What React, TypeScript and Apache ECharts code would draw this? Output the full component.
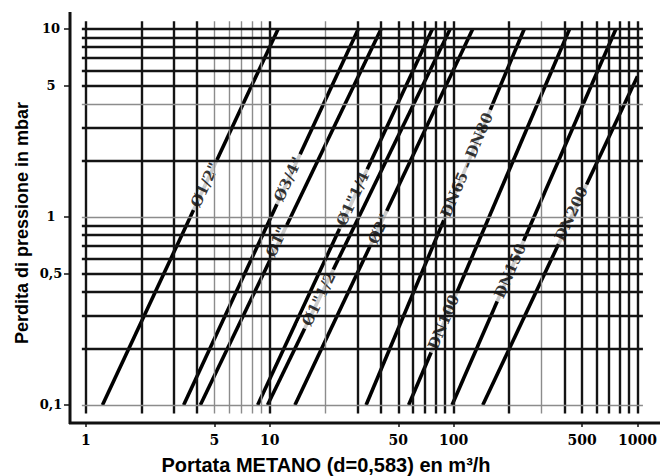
import React, { useEffect, useRef } from 'react';
import * as echarts from 'echarts';

// ---- data ----
const pipeNames = ['Ø1/2"', 'Ø3/4"', 'Ø1"', 'Ø1"1/4', 'Ø1"1/2', 'Ø2"', 'DN65 - DN80', 'DN100', 'DN150', 'DN200'];
const flowStart = [1.23, 3.4, 4.19, 8.59, 9.72, 13.7, 33.4, 56.9, 98, 144];
const pressureStart = [0.1, 0.1, 0.1, 0.1, 0.1, 0.1, 0.1, 0.1, 0.1, 0.1];
const flowEnd = [11.1, 30.3, 40.3, 76.6, 95.7, 127, 242, 427, 763, 1000];
const pressureEnd = [10, 10, 10, 10, 10, 10, 10, 10, 10, 5.6];
const labelFlow = [4.44, 12.6, 10.9, 28.3, 18.5, 39.3, 118, 88.3, 203, 437];
const labelPressure = [1.48, 1.59, 0.736, 1.25, 0.366, 0.863, 1.89, 0.276, 0.516, 1.04];
const xTickLabels = [1, 5, 10, 50, 100, 500, 1000];
const yTickLabels = [0.1, 0.5, 1, 5, 10];
const xGridValues = [1, 2, 3, 4, 5, 6, 7, 8, 9, 10, 20, 30, 40, 50, 60, 70, 80, 90, 100, 200, 300, 400, 500, 600, 700, 800, 900, 1000];
const yGridValues = [0.1, 0.2, 0.3, 0.4, 0.5, 0.6, 0.7, 0.8, 0.9, 1, 2, 3, 4, 5, 6, 7, 8, 9, 10];
const xAxisTitle = 'Portata METANO (d=0,583) en m³/h';
const yAxisTitle = 'Perdita di pressione in mbar';

// style helpers (not data)
const lightX = [5, 6, 7, 8, 9, 20, 300];
const lightY = [0.1, 1, 4];
const isIn = (list: number[], v: number) => list.some((w) => Math.abs(w - v) < 1e-9);
const darkGrid = { color: '#141414', width: 2.4, type: 'solid' as const };
const lightGrid = { color: '#8c8c8c', width: 1.4, type: 'solid' as const };

const fmt = (v: number) => (v < 1 ? v.toFixed(1) : String(Math.round(v))).replace('.', ',');

export default function App() {
  const ref = useRef<HTMLDivElement>(null);
  useEffect(() => {
    if (!ref.current) return;
    const chart = echarts.init(ref.current, undefined, { renderer: 'svg' });
    const labelFont = '"DejaVu Serif", "Liberation Serif", serif';
    const buildLabels = (angles: number[]) =>
      pipeNames.map((n, i) => ({
        name: n,
        value: [labelFlow[i], labelPressure[i]],
        label: { rotate: angles[i] },
      }));
    const option: any = {
      animation: false,
      backgroundColor: '#ffffff',
      grid: { left: 81.85, right: 9.5, top: 21.2, bottom: 62.4 },
      xAxis: {
        type: 'log',
        min: 0.95,
        max: 1070,
        offset: 9.4,
        axisLine: { show: false },
        splitLine: { show: false },
        minorSplitLine: { show: false },
        axisTick: {
          show: true,
          customValues: xTickLabels,
          length: 4,
          lineStyle: { color: '#111', width: 1.5 },
        },
        axisLabel: {
          customValues: xTickLabels,
          formatter: fmt,
          margin: 10,
          color: '#000',
          fontFamily: labelFont,
          fontWeight: 'bold',
          fontSize: 14,
        },
      },
      yAxis: {
        type: 'log',
        min: 0.09,
        max: 11,
        offset: 11.85,
        axisLine: { show: false },
        splitLine: { show: false },
        minorSplitLine: { show: false },
        axisTick: {
          show: true,
          customValues: yTickLabels,
          length: 6,
          lineStyle: { color: '#111', width: 1.5 },
        },
        axisLabel: {
          customValues: yTickLabels,
          formatter: fmt,
          margin: 19,
          align: 'center',
          color: '#000',
          fontFamily: labelFont,
          fontWeight: 'bold',
          fontSize: 13,
        },
      },
      series: [
        {
          id: 'grid',
          type: 'line',
          data: [],
          z: 1,
          silent: true,
          markLine: {
            silent: true,
            symbol: ['none', 'none'],
            label: { show: false },
            animation: false,
            data: [
              ...xGridValues.map((v) => ({ xAxis: v, lineStyle: isIn(lightX, v) ? lightGrid : darkGrid })),
              ...yGridValues.map((v) => ({ yAxis: v, lineStyle: isIn(lightY, v) ? lightGrid : darkGrid })),
            ],
          },
        },
        ...pipeNames.map((n, i) => ({
          name: n,
          type: 'line',
          z: 2,
          silent: true,
          symbol: 'none',
          lineStyle: { color: '#000', width: 3.6 },
          data: [
            [flowStart[i], pressureStart[i]],
            [flowEnd[i], pressureEnd[i]],
          ],
        })),
        {
          id: 'labels',
          type: 'scatter',
          z: 3,
          silent: true,
          symbolSize: 1,
          itemStyle: { color: '#fff' },
          label: {
            show: true,
            position: 'inside',
            formatter: '{b}',
            color: '#000',
            fontFamily: labelFont,
            fontWeight: 'bold',
            fontSize: 15,
            backgroundColor: '#ffffff',
            padding: [1, 4],
            align: 'center',
            verticalAlign: 'middle',
          },
          data: buildLabels(pipeNames.map(() => 64)),
        },
      ],
      graphic: [
        { type: 'line', shape: { x1: 70, y1: 12, x2: 70, y2: 424 }, style: { stroke: '#111', lineWidth: 3 }, z: 10 },
        { type: 'line', shape: { x1: 69, y1: 423, x2: 660, y2: 423 }, style: { stroke: '#111', lineWidth: 3 }, z: 10 },
        {
          type: 'text',
          x: 326,
          y: 465,
          z: 10,
          style: {
            text: xAxisTitle,
            font: 'bold 20px "Liberation Sans", Arial, sans-serif',
            fill: '#000',
            align: 'center',
            verticalAlign: 'middle',
          },
        },
        {
          type: 'text',
          x: 22,
          y: 223,
          rotation: Math.PI / 2,
          z: 10,
          style: {
            text: yAxisTitle,
            font: 'bold 18px "Liberation Sans", Arial, sans-serif',
            fill: '#000',
            align: 'center',
            verticalAlign: 'middle',
          },
        },
      ],
    };
    chart.setOption(option);
    const angles = pipeNames.map((_, i) => {
      const a = chart.convertToPixel({ gridIndex: 0 }, [flowStart[i], pressureStart[i]]) as number[];
      const b = chart.convertToPixel({ gridIndex: 0 }, [flowEnd[i], pressureEnd[i]]) as number[];
      return (Math.atan2(a[1] - b[1], b[0] - a[0]) * 180) / Math.PI;
    });
    chart.setOption({ series: [{ id: 'labels', data: buildLabels(angles) }] });
    return () => chart.dispose();
  }, []);
  return (
    <div
      ref={ref}
      style={{ position: 'fixed', left: 0, top: 0, width: 660, height: 476, background: '#fff' }}
    />
  );
}
